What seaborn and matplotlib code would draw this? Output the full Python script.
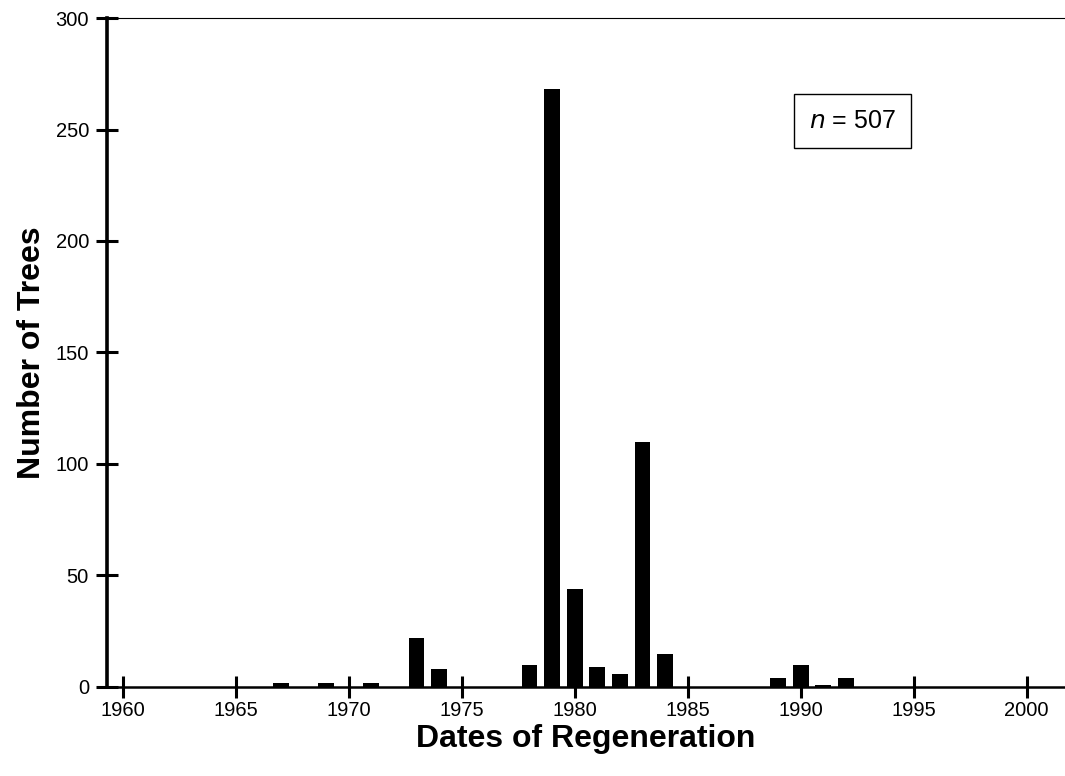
import matplotlib
matplotlib.use("Agg")
import matplotlib.pyplot as plt
import seaborn as sns
import pandas as pd

years = [1967, 1969, 1971, 1973, 1974, 1978, 1979, 1980, 1981, 1982, 1983, 1984, 1989, 1990, 1991, 1992]
counts = [2, 2, 2, 22, 8, 10, 268, 44, 9, 6, 110, 15, 4, 10, 1, 4]
x_ticks = [1960, 1965, 1970, 1975, 1980, 1985, 1990, 1995, 2000]
y_ticks = [0, 50, 100, 150, 200, 250, 300]
annotation = "$\\it{n}$ = 507"

sns.set_theme(style="white")
plt.rcParams['font.family'] = ['Liberation Sans', 'DejaVu Sans']
plt.rcParams['text.color'] = 'black'
plt.rcParams['axes.labelcolor'] = 'black'

df = pd.DataFrame({"year": years, "count": counts})

fig = plt.figure(figsize=(10.65, 7.76), dpi=100)
ax = fig.add_axes([0.1005, 0.1147, 0.8995, 0.8621])

sns.barplot(data=df, x="year", y="count", native_scale=True, color="black",
            width=0.7, ax=ax, edgecolor="black", linewidth=0)

ax.set_xlim(1959.3, 2001.7)
ax.set_ylim(0, 300)
ax.set_xticks(x_ticks)
ax.set_yticks(y_ticks)
ax.set_xticklabels([str(t) for t in x_ticks], fontsize=14.5)
ax.set_yticklabels([str(t) for t in y_ticks], fontsize=14.5)

ax.spines['right'].set_visible(False)
ax.spines['top'].set_linewidth(0.8)
ax.spines['left'].set_linewidth(2.6)
ax.spines['bottom'].set_linewidth(1.8)
for s in ax.spines.values():
    s.set_color("black")
ax.tick_params(axis='both', which='major', bottom=True, left=True, top=False, right=False,
               direction='inout', length=16, width=2.2, colors='black')
ax.tick_params(axis='x', pad=2)
ax.tick_params(axis='y', pad=5)

ax.set_xlabel("Dates of Regeneration", fontsize=23, fontweight='bold', labelpad=3)
ax.set_ylabel("Number of Trees", fontsize=23, fontweight='bold', labelpad=6)

ax.text(0.778, 0.846, annotation, transform=ax.transAxes, fontsize=18,
        ha="center", va="center",
        bbox=dict(boxstyle="square,pad=0.6", facecolor="white", edgecolor="black", linewidth=1))

fig.savefig("out.png", dpi=100)
